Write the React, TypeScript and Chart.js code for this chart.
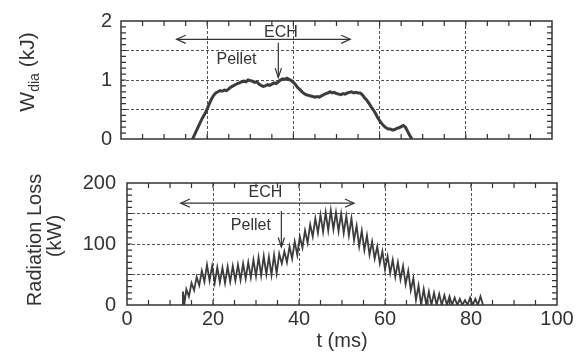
import React, { useEffect, useRef } from 'react';
import { Chart, registerables } from 'chart.js';

Chart.register(...registerables);

// ---------- data ----------
const T_TICK_LABELS = [0, 20, 40, 60, 80, 100];
const W_TICK_LABELS = [0, 1, 2];
const RAD_TICK_LABELS = [0, 100, 200];

// Stored energy W_dia (kJ) vs t (ms)
const W_TIME = [
  16.6, 17.0, 17.5, 18.0, 18.5, 19.0, 19.5, 20.0, 20.5, 21.0, 21.5, 22.0, 22.5, 23.0, 23.5, 24.0,
  24.5, 25.0, 25.5, 26.0, 26.5, 27.0, 27.5, 28.0, 28.5, 29.0, 29.5, 30.0, 30.5, 31.0, 31.5, 32.0,
  32.5, 33.0, 33.5, 34.0, 34.5, 35.0, 35.5, 36.0, 36.5, 37.0, 37.5, 38.0, 38.5, 39.0, 39.5, 40.0,
  40.5, 41.0, 41.5, 42.0, 42.5, 43.0, 43.5, 44.0, 44.5, 45.0, 45.5, 46.0, 46.5, 47.0, 47.5, 48.0,
  48.5, 49.0, 49.5, 50.0, 50.5, 51.0, 51.5, 52.0, 52.5, 53.0, 53.5, 54.0, 54.5, 55.0, 55.5, 56.0,
  56.5, 57.0, 57.5, 58.0, 58.5, 59.0, 59.5, 60.0, 60.5, 61.0, 61.5, 62.0, 62.5, 63.0, 63.5, 64.0,
  64.5, 65.0, 65.5, 66.0, 66.5, 67.0, 67.5,
];
const W_VALUE = [
  0.0, 0.06, 0.14, 0.22, 0.3, 0.37, 0.43, 0.51, 0.6, 0.68, 0.74, 0.78, 0.8, 0.82, 0.81, 0.83,
  0.82, 0.85, 0.88, 0.9, 0.92, 0.94, 0.95, 0.97, 0.98, 0.97, 1.0, 0.99, 0.98, 0.96, 0.97, 0.93,
  0.91, 0.89, 0.9, 0.92, 0.91, 0.93, 0.95, 0.94, 0.97, 1.0, 1.02, 1.01, 1.03, 1.01, 0.99, 0.96,
  0.92, 0.87, 0.84, 0.8, 0.77, 0.75, 0.74, 0.73, 0.72, 0.71, 0.72, 0.71, 0.73, 0.75, 0.77, 0.78,
  0.8, 0.78, 0.79, 0.77, 0.76, 0.75, 0.77, 0.76, 0.78, 0.79, 0.8, 0.78, 0.79, 0.78, 0.78, 0.75,
  0.7, 0.66, 0.61, 0.55, 0.5, 0.44, 0.37, 0.31, 0.26, 0.22, 0.19, 0.17, 0.17, 0.15, 0.16, 0.18,
  0.19, 0.21, 0.23, 0.2, 0.13, 0.06, 0.0,
];

// Radiation loss (kW) vs t (ms)
const RAD_TIME = [
  12.8, 13.0, 13.4, 13.8, 14.4, 15.0, 15.6, 16.2, 16.8, 17.4, 18.0, 18.6, 19.2, 19.8, 20.4, 21.0,
  21.6, 22.2, 22.8, 23.4, 24.0, 24.6, 25.2, 25.8, 26.4, 27.0, 27.6, 28.2, 28.8, 29.4, 30.0, 30.6,
  31.2, 31.8, 32.4, 33.0, 33.6, 34.2, 34.8, 35.4, 36.0, 36.6, 37.2, 37.8, 38.4, 39.0, 39.6, 40.2,
  40.8, 41.4, 42.0, 42.6, 43.2, 43.8, 44.4, 45.0, 45.6, 46.2, 46.8, 47.4, 48.0, 48.6, 49.2, 49.8,
  50.4, 51.0, 51.6, 52.2, 52.8, 53.4, 54.0, 54.6, 55.2, 55.8, 56.4, 57.0, 57.6, 58.2, 58.8, 59.4,
  60.0, 60.6, 61.2, 61.8, 62.4, 63.0, 63.6, 64.2, 64.8, 65.4, 66.0, 66.6, 67.2, 67.8, 68.4, 69.0,
  69.6, 70.2, 70.8, 71.4, 72.0, 72.6, 73.2, 73.8, 74.4, 75.0, 75.6, 76.2, 76.8, 77.4, 78.0, 78.6,
  79.2, 79.8, 80.4, 81.0, 81.6, 82.2, 82.8,
];
const RAD_VALUE = [
  0, 22, 4, 26, 14, 36, 24, 46, 32, 56, 38, 66, 40, 64, 36, 62,
  37, 61, 36, 63, 38, 64, 40, 66, 41, 68, 43, 70, 45, 74, 47, 78,
  48, 80, 50, 79, 49, 82, 52, 84, 68, 88, 70, 96, 76, 104, 82, 112,
  94, 122, 102, 132, 112, 142, 118, 148, 120, 152, 122, 155, 124, 152, 121, 150,
  118, 146, 114, 142, 106, 130, 96, 122, 90, 114, 82, 104, 76, 96, 68, 88,
  58, 80, 52, 74, 46, 70, 42, 64, 34, 56, 24, 44, 8, 32, 0, 26,
  0, 22, 0, 20, 0, 18, 0, 16, 0, 14, 0, 12, 0, 10, 0, 8,
  0, 12, 0, 10, 0, 14, 0,
];

// annotations (data coordinates)
const ECH_TOP = { start: 12.9, end: 53.2, level: 1.69, labelT: 37.1, labelLevel: 1.81 };
const PELLET_TOP = { t: 36.5, from: 1.63, to: 1.04, labelT: 26.8, labelLevel: 1.35 };
const ECH_BOTTOM = { start: 12.5, end: 52.8, level: 167, labelT: 32.2, labelLevel: 185 };
const PELLET_BOTTOM = { t: 35.9, from: 154, to: 95, labelT: 28.8, labelLevel: 130 };

// ---------- styles ----------
const INK = '#333333';
const LINE = '#3c3c3c';
const GRID = '#555555';
const FF = '"Liberation Sans", Arial, Helvetica, sans-serif';

type Ann = { ech: typeof ECH_TOP; pellet: typeof PELLET_TOP };

function arrowHead(ctx: CanvasRenderingContext2D, x: number, y: number, angle: number, len: number, spread: number) {
  ctx.beginPath();
  ctx.moveTo(x - len * Math.cos(angle - spread), y - len * Math.sin(angle - spread));
  ctx.lineTo(x, y);
  ctx.lineTo(x - len * Math.cos(angle + spread), y - len * Math.sin(angle + spread));
  ctx.stroke();
}

function panelPlugin(xMinor: number, yMinor: number, ann: Ann, drawTitles: (chart: any) => void) {
  return {
    id: 'panelDecor',
    afterDraw(chart: any) {
      const ctx: CanvasRenderingContext2D = chart.ctx;
      const { left, right, top, bottom } = chart.chartArea;
      const xs = chart.scales.x;
      const ys = chart.scales.y;
      ctx.save();
      // frame
      ctx.strokeStyle = INK;
      ctx.lineWidth = 1.5;
      ctx.setLineDash([]);
      ctx.strokeRect(left, top, right - left, bottom - top);
      // minor ticks (inward)
      ctx.lineWidth = 1.2;
      const tl = 5;
      const nx = Math.round((xs.max - xs.min) / xMinor);
      for (let i = 1; i < nx; i++) {
        const px = xs.getPixelForValue(xs.min + i * xMinor);
        ctx.beginPath();
        ctx.moveTo(px, bottom);
        ctx.lineTo(px, bottom - tl);
        ctx.moveTo(px, top);
        ctx.lineTo(px, top + tl);
        ctx.stroke();
      }
      const ny = Math.round((ys.max - ys.min) / yMinor);
      for (let i = 1; i < ny; i++) {
        const py = ys.getPixelForValue(ys.min + i * yMinor);
        ctx.beginPath();
        ctx.moveTo(left, py);
        ctx.lineTo(left + tl, py);
        ctx.moveTo(right, py);
        ctx.lineTo(right - tl, py);
        ctx.stroke();
      }
      // ECH double arrow
      ctx.strokeStyle = INK;
      ctx.lineWidth = 1.2;
      const ey = ys.getPixelForValue(ann.ech.level);
      const ex1 = xs.getPixelForValue(ann.ech.start);
      const ex2 = xs.getPixelForValue(ann.ech.end);
      ctx.beginPath();
      ctx.moveTo(ex1, ey);
      ctx.lineTo(ex2, ey);
      ctx.stroke();
      arrowHead(ctx, ex1, ey, Math.PI, 10, 0.42);
      arrowHead(ctx, ex2, ey, 0, 10, 0.42);
      // Pellet arrow
      const px = xs.getPixelForValue(ann.pellet.t);
      const py1 = ys.getPixelForValue(ann.pellet.from);
      const py2 = ys.getPixelForValue(ann.pellet.to);
      ctx.beginPath();
      ctx.moveTo(px, py1);
      ctx.lineTo(px, py2);
      ctx.stroke();
      arrowHead(ctx, px, py2, Math.PI / 2, 10, 0.32);
      // labels
      ctx.fillStyle = INK;
      ctx.font = `16px ${FF}`;
      ctx.textAlign = 'center';
      ctx.textBaseline = 'middle';
      ctx.fillText('ECH', xs.getPixelForValue(ann.ech.labelT), ys.getPixelForValue(ann.ech.labelLevel));
      ctx.fillText('Pellet', xs.getPixelForValue(ann.pellet.labelT), ys.getPixelForValue(ann.pellet.labelLevel));
      ctx.restore();
      ctx.save();
      drawTitles(chart);
      ctx.restore();
    },
  };
}

function drawTopTitle(chart: any) {
  const ctx: CanvasRenderingContext2D = chart.ctx;
  const main = 21;
  const sub = 14;
  ctx.fillStyle = INK;
  ctx.textBaseline = 'alphabetic';
  ctx.textAlign = 'left';
  ctx.font = `${main}px ${FF}`;
  const wW = ctx.measureText('W').width;
  const wRest = ctx.measureText(' (kJ)').width;
  ctx.font = `${sub}px ${FF}`;
  const wSub = ctx.measureText('dia').width;
  const total = wW + wSub + wRest;
  ctx.translate(34, 72);
  ctx.rotate(-Math.PI / 2);
  let x = -total / 2;
  ctx.font = `${main}px ${FF}`;
  ctx.fillText('W', x, 0);
  x += wW;
  ctx.font = `${sub}px ${FF}`;
  ctx.fillText('dia', x, 5);
  x += wSub;
  ctx.font = `${main}px ${FF}`;
  ctx.fillText(' (kJ)', x, 0);
}

function drawBottomTitles(chart: any) {
  const ctx: CanvasRenderingContext2D = chart.ctx;
  const { left, right } = chart.chartArea;
  ctx.fillStyle = INK;
  ctx.font = `20px ${FF}`;
  ctx.textAlign = 'center';
  ctx.textBaseline = 'alphabetic';
  ctx.save();
  ctx.translate(41, 80);
  ctx.rotate(-Math.PI / 2);
  ctx.fillText('Radiation Loss', 0, 0);
  ctx.restore();
  ctx.save();
  ctx.translate(61, 76);
  ctx.rotate(-Math.PI / 2);
  ctx.fillText('(kW)', 0, 0);
  ctx.restore();
  ctx.textBaseline = 'middle';
  ctx.fillText('t (ms)', (left + right) / 2, 181);
}

function makeXAxis(showLabels: boolean, height: number) {
  return {
    type: 'linear' as const,
    min: 0,
    max: 100,
    ticks: {
      display: showLabels,
      stepSize: 20,
      autoSkip: false,
      padding: 2,
      color: INK,
      font: { family: FF, size: 20 },
      callback: (v: any) => (T_TICK_LABELS.includes(v) ? String(v) : ''),
    },
    grid: {
      drawTicks: false,
      lineWidth: 1,
      color: (c: any) => (c.tick && c.tick.value > 0 && c.tick.value < 100 ? GRID : 'rgba(0,0,0,0)'),
    },
    border: { display: false, dash: [3, 2] },
    afterFit: (s: any) => {
      s.height = height;
    },
  };
}

function makeYAxis(max: number, step: number, labels: number[], width: number, pad: number) {
  return {
    min: 0,
    max,
    ticks: {
      stepSize: step,
      autoSkip: false,
      padding: pad,
      color: INK,
      font: { family: FF, size: 20 },
      callback: (v: any) => (labels.includes(v) ? String(v) : ''),
    },
    grid: {
      drawTicks: false,
      lineWidth: 1,
      color: (c: any) => (c.tick && c.tick.value > 0 && c.tick.value < max ? GRID : 'rgba(0,0,0,0)'),
    },
    border: { display: false, dash: [3, 2] },
    afterFit: (s: any) => {
      s.width = width;
    },
  };
}

export default function App() {
  const topRef = useRef<HTMLCanvasElement>(null);
  const botRef = useRef<HTMLCanvasElement>(null);

  useEffect(() => {
    if (!topRef.current || !botRef.current) return;
    const topChart = new Chart(topRef.current, {
      type: 'line',
      data: {
        datasets: [
          {
            data: W_TIME.map((t, i) => ({ x: t, y: W_VALUE[i] })),
            borderColor: LINE,
            borderWidth: 3,
            pointRadius: 0,
            tension: 0,
            fill: false,
          },
        ],
      },
      options: {
        animation: false,
        responsive: false,
        layout: { padding: { left: 0, right: 31, top: 13, bottom: 18 } },
        plugins: { legend: { display: false }, tooltip: { enabled: false } },
        scales: {
          x: makeXAxis(false, 0),
          y: makeYAxis(2, 0.5, W_TICK_LABELS, 121, 9),
        },
      },
      plugins: [panelPlugin(5, 0.1, { ech: ECH_TOP, pellet: PELLET_TOP }, drawTopTitle)],
    } as any);

    const botChart = new Chart(botRef.current, {
      type: 'line',
      data: {
        datasets: [
          {
            data: RAD_TIME.map((t, i) => ({ x: t, y: RAD_VALUE[i] })),
            borderColor: LINE,
            borderWidth: 1.8,
            pointRadius: 0,
            tension: 0,
            fill: false,
          },
        ],
      },
      options: {
        animation: false,
        responsive: false,
        layout: { padding: { left: 0, right: 26, top: 17, bottom: 0 } },
        plugins: { legend: { display: false }, tooltip: { enabled: false } },
        scales: {
          x: makeXAxis(true, 48),
          y: makeYAxis(200, 50, RAD_TICK_LABELS, 127, 11),
        },
      },
      plugins: [panelPlugin(5, 10, { ech: ECH_BOTTOM, pellet: PELLET_BOTTOM }, drawBottomTitles)],
    } as any);

    return () => {
      topChart.destroy();
      botChart.destroy();
    };
  }, []);

  return (
    <div style={{ position: 'absolute', left: 0, top: 0, width: 583, height: 353, background: '#fff' }}>
      <canvas ref={topRef} width={583} height={160} style={{ position: 'absolute', left: 0, top: 0 }} />
      <canvas ref={botRef} width={583} height={193} style={{ position: 'absolute', left: 0, top: 160 }} />
    </div>
  );
}
